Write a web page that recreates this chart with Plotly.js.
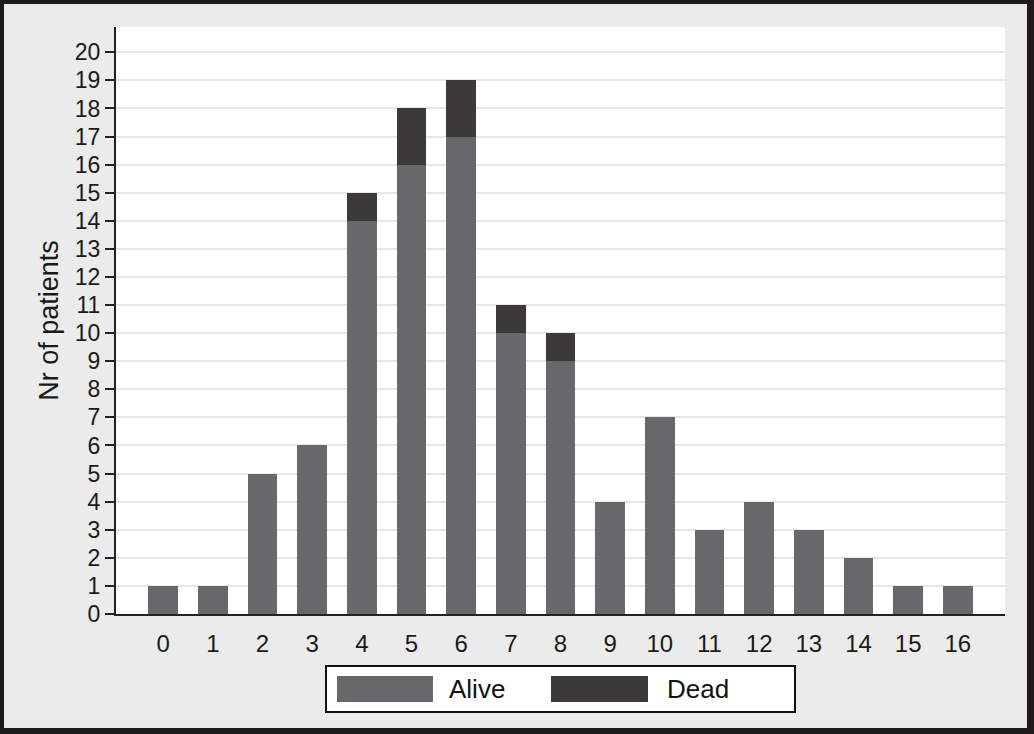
<!DOCTYPE html>
<html><head><meta charset="utf-8">
<script src="https://cdn.plot.ly/plotly-3.0.1.min.js"></script>
<style>
html,body{margin:0;padding:0;background:#1d1a1a;width:1034px;height:734px;overflow:hidden;}
#chart{position:absolute;left:4px;top:4px;width:1023px;height:724px;}
</style></head>
<body><div id="chart"></div>
<script>
const categories = ['0','1','2','3','4','5','6','7','8','9','10','11','12','13','14','15','16'];
const alive = [1,1,5,6,14,16,17,10,9,4,7,3,4,3,2,1,1];
const dead  = [0,0,0,0,1,2,2,1,1,0,0,0,0,0,0,0,0];
const seriesNames = ['Alive','Dead'];
const yTicks = [0,1,2,3,4,5,6,7,8,9,10,11,12,13,14,15,16,17,18,19,20];

const W = 1023, H = 724;
const M = {l:112, r:22, t:23, b:114};
const PW = W - M.l - M.r, PH = H - M.t - M.b;
// convert outer-image pixel coords to paper coords
const px = X => (X - 4 - M.l) / PW;
const py = Y => (H - M.b - (Y - 4)) / PH;

const aliveColor = '#68686a', deadColor = '#3c393a';
const font = 'Liberation Sans, Arial, sans-serif';

const traces = [
  {type:'bar', x:categories, y:alive, name:seriesNames[0], marker:{color:aliveColor, line:{width:0}}, width:0.6},
  {type:'bar', x:categories, y:dead, name:seriesNames[1], marker:{color:deadColor, line:{width:0}}, width:0.6}
];

const shapes = [
  {type:'rect', xref:'paper', yref:'paper', x0:px(326), x1:px(795), y0:py(666), y1:py(712), fillcolor:'#ffffff', line:{color:'#111', width:2}},
  {type:'rect', xref:'paper', yref:'paper', x0:px(337), x1:px(433), y0:py(676), y1:py(702), fillcolor:aliveColor, line:{width:0}},
  {type:'rect', xref:'paper', yref:'paper', x0:px(551), x1:px(648), y0:py(676), y1:py(702), fillcolor:deadColor, line:{width:0}}
];
const annotations = [
  {xref:'paper', yref:'paper', x:px(447), y:py(689), xanchor:'left', yanchor:'middle', text:seriesNames[0], showarrow:false, font:{family:font, size:26, color:'#111'}},
  {xref:'paper', yref:'paper', x:px(665), y:py(689), xanchor:'left', yanchor:'middle', text:seriesNames[1], showarrow:false, font:{family:font, size:26, color:'#111'}}
];

const layout = {
  width:W, height:H,
  margin:M,
  barmode:'stack',
  showlegend:false,
  paper_bgcolor:'#ebebeb',
  plot_bgcolor:'#ffffff',
  font:{family:font, size:22, color:'#1a1a1a'},
  xaxis:{
    type:'category', range:[-0.95, 16.95],
    showgrid:false, zeroline:false,
    showline:true, linecolor:'#222', linewidth:2,
    ticks:'outside', ticklen:7, tickcolor:'rgba(0,0,0,0)',
    tickfont:{family:font, size:24, color:'#1a1a1a'}
  },
  yaxis:{
    range:[0, 20.9], tickvals:yTicks, ticktext:yTicks.map(String),
    showgrid:true, gridcolor:'#e6e6e6', gridwidth:2,
    zeroline:false,
    showline:true, linecolor:'#222', linewidth:2,
    ticks:'outside', ticklen:9, tickwidth:2, tickcolor:'#222',
    tickfont:{family:font, size:23, color:'#1a1a1a'},
    title:{text:'Nr of patients', font:{family:font, size:27, color:'#1a1a1a'}, standoff:8}
  },
  shapes:shapes,
  annotations:annotations
};

Plotly.newPlot('chart', traces, layout, {displayModeBar:false, staticPlot:true});
</script>
</body></html>
